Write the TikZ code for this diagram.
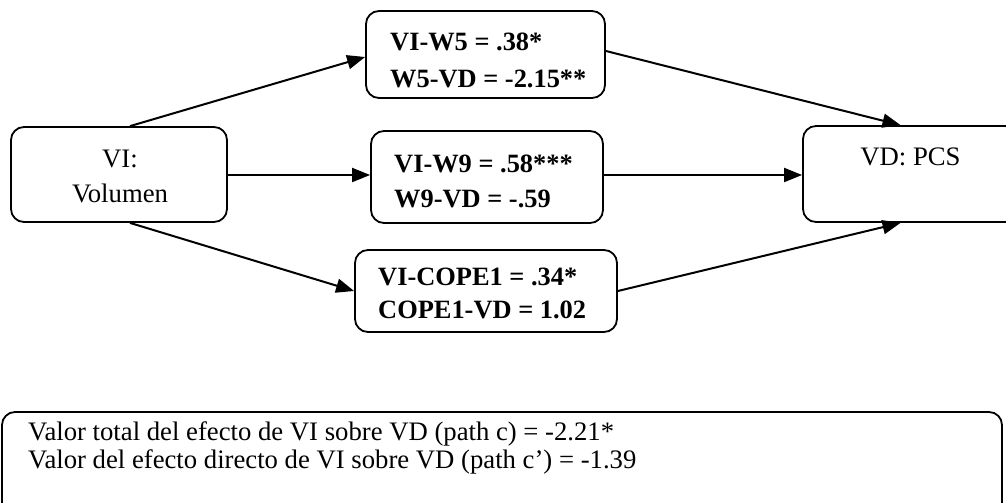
\documentclass[tikz,border=0pt]{standalone}
\usepackage{fontspec}
\setmainfont{Liberation Serif}
\usetikzlibrary{arrows.meta}
\begin{document}
\begin{tikzpicture}[x=1pt,y=-1pt,
  box/.style={draw, line width=1.8pt, rounded corners=13pt, inner sep=0pt},
  reg/.style={font=\fontsize{26.7}{28}\selectfont, inner sep=0pt},
  bld/.style={font=\fontsize{26.4}{28}\selectfont\bfseries, inner sep=0pt},
  arr/.style={line width=2pt, -{Triangle[length=18pt,width=14pt]}}]
\useasboundingbox (0,0) rectangle (1006,503);
\clip (0,0) rectangle (1006,503);

\node[box, minimum width=216pt, minimum height=95pt] (vi) at (119,174.5) {};
\node[reg, anchor=base] (vi1) at (120,167) {VI:};
\node[reg, anchor=base] (vi2) at (120,202) {Volumen};

\node[box, minimum width=239pt, minimum height=87pt] (w5) at (485.5,54.5) {};
\node[bld, anchor=base west] (w5a) at (390,51) {VI-W5 = .38*};
\node[bld, anchor=base west] (w5b) at (390,87) {W5-VD = -2.15**};

\node[box, minimum width=232pt, minimum height=92pt] (w9) at (487,177) {};
\node[bld, anchor=base west] (w9a) at (394,172) {VI-W9 = .58***};
\node[bld, anchor=base west] (w9b) at (394,207) {W9-VD = -.59};

\node[box, minimum width=262pt, minimum height=82pt] (c1) at (486,291) {};
\node[bld, anchor=base west] (c1a) at (378,285) {VI-COPE1 = .34*};
\node[bld, anchor=base west] (c1b) at (378,318) {COPE1-VD = 1.02};

\node[box, minimum width=215pt, minimum height=96pt] (vd) at (910.5,174) {};
\node[reg, anchor=base] (vdt) at (910.5,165) {VD: PCS};

\node[box, minimum width=1000pt, minimum height=110pt] (tot) at (502,467) {};
\node[reg, anchor=base west] (tot1) at (28,440) {Valor total del efecto de VI sobre VD (path c) = -2.21*};
\node[reg, anchor=base west] (tot2) at (28,468) {Valor del efecto directo de VI sobre VD (path c’) = -1.39};

\draw[arr] ([xshift=11pt]vi.north) -- ([yshift=-2.5pt]w5.west);
\draw[arr] ([yshift=-0.5pt]vi.east) -- ([yshift=-0.5pt]vi.east -| w9.west);
\draw[arr] ([xshift=11pt]vi.south) -- (c1.west);
\draw[arr] ([yshift=3.5pt]w5.east) -- ([xshift=-10pt]vd.north);
\draw[arr] ([yshift=2pt]w9.east) -- ([yshift=2pt]w9.east -| vd.west);
\draw[arr] (c1.east) -- ([xshift=-10pt]vd.south);
\end{tikzpicture}
\end{document}
